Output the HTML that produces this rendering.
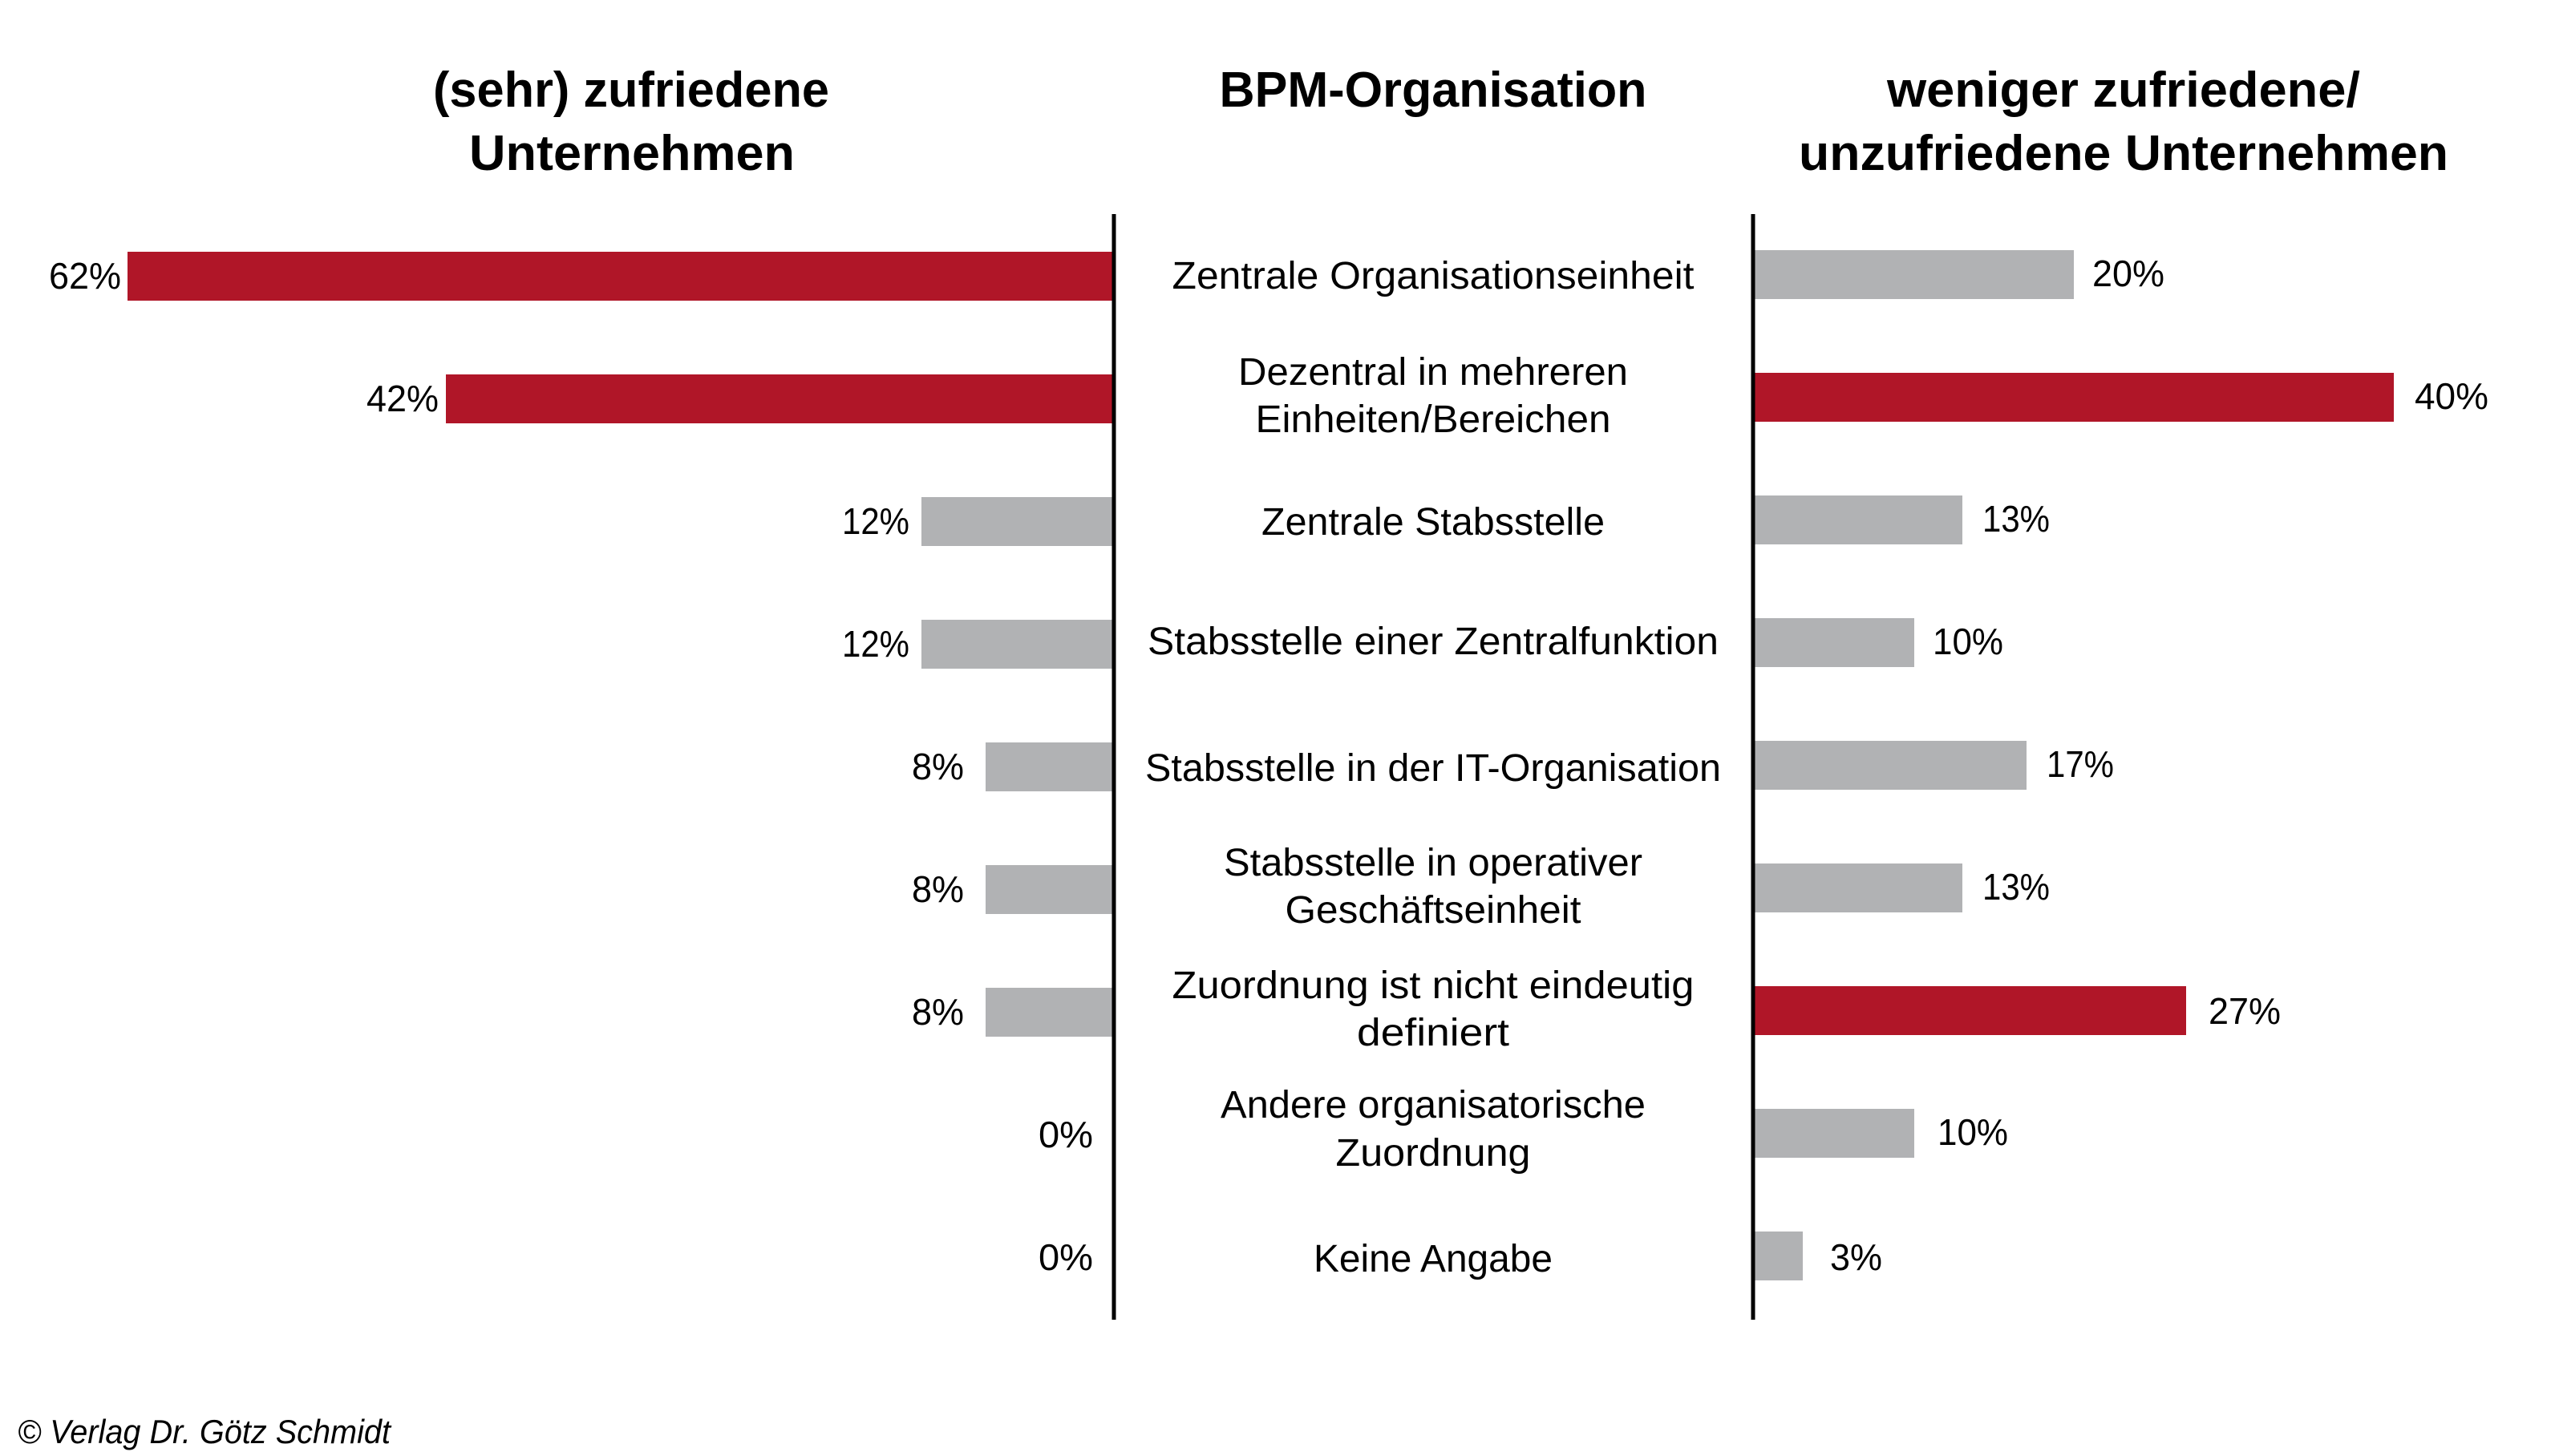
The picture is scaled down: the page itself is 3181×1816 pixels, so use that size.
<!DOCTYPE html>
<html><head><meta charset="utf-8"><style>html,body{margin:0;padding:0;background:#fff}svg{display:block}</style></head>
<body>
<svg width="3181" height="1816" viewBox="0 0 3181 1816" xmlns="http://www.w3.org/2000/svg" font-family="Liberation Sans, sans-serif">
<rect width="3181" height="1816" fill="#fff"/>
<g font-weight="bold" font-size="62" text-anchor="middle" fill="#000">
<text x="787" y="133" textLength="494" lengthAdjust="spacingAndGlyphs">(sehr) zufriedene</text>
<text x="788" y="212" textLength="406" lengthAdjust="spacingAndGlyphs">Unternehmen</text>
<text x="1787" y="133" textLength="533" lengthAdjust="spacingAndGlyphs">BPM-Organisation</text>
<text x="2648" y="133" textLength="590" lengthAdjust="spacingAndGlyphs">weniger zufriedene/</text>
<text x="2648" y="212" textLength="810" lengthAdjust="spacingAndGlyphs">unzufriedene Unternehmen</text>
</g>
<g>
<rect x="159" y="314" width="1228" height="61" fill="#b01628"/>
<rect x="556" y="467" width="831" height="61" fill="#b01628"/>
<rect x="1149" y="620" width="238" height="61" fill="#b1b2b4"/>
<rect x="1149" y="773" width="238" height="61" fill="#b1b2b4"/>
<rect x="1229" y="926" width="158" height="61" fill="#b1b2b4"/>
<rect x="1229" y="1079" width="158" height="61" fill="#b1b2b4"/>
<rect x="1229" y="1232" width="158" height="61" fill="#b1b2b4"/>
</g>
<g>
<rect x="2188" y="312" width="398" height="61" fill="#b1b2b4"/>
<rect x="2188" y="465" width="797" height="61" fill="#b01628"/>
<rect x="2188" y="618" width="259" height="61" fill="#b1b2b4"/>
<rect x="2188" y="771" width="199" height="61" fill="#b1b2b4"/>
<rect x="2188" y="924" width="339" height="61" fill="#b1b2b4"/>
<rect x="2188" y="1077" width="259" height="61" fill="#b1b2b4"/>
<rect x="2188" y="1230" width="538" height="61" fill="#b01628"/>
<rect x="2188" y="1383" width="199" height="61" fill="#b1b2b4"/>
<rect x="2188" y="1536" width="60" height="61" fill="#b1b2b4"/>
</g>
<line x1="1389" y1="267" x2="1389" y2="1646" stroke="#000" stroke-width="5"/>
<line x1="2186" y1="267" x2="2186" y2="1646" stroke="#000" stroke-width="5"/>
<g font-size="46" text-anchor="end" fill="#000">
<text x="151" y="360" textLength="90" lengthAdjust="spacingAndGlyphs">62%</text>
<text x="547" y="513" textLength="90" lengthAdjust="spacingAndGlyphs">42%</text>
<text x="1134" y="666" textLength="84" lengthAdjust="spacingAndGlyphs">12%</text>
<text x="1134" y="819" textLength="84" lengthAdjust="spacingAndGlyphs">12%</text>
<text x="1202" y="972" textLength="65" lengthAdjust="spacingAndGlyphs">8%</text>
<text x="1202" y="1125" textLength="65" lengthAdjust="spacingAndGlyphs">8%</text>
<text x="1202" y="1278" textLength="65" lengthAdjust="spacingAndGlyphs">8%</text>
<text x="1363" y="1431" textLength="68" lengthAdjust="spacingAndGlyphs">0%</text>
<text x="1363" y="1584" textLength="68" lengthAdjust="spacingAndGlyphs">0%</text>
</g>
<g font-size="46" fill="#000">
<text x="2609" y="357" textLength="90" lengthAdjust="spacingAndGlyphs">20%</text>
<text x="3011" y="510" textLength="92" lengthAdjust="spacingAndGlyphs">40%</text>
<text x="2472" y="663" textLength="84" lengthAdjust="spacingAndGlyphs">13%</text>
<text x="2410" y="816" textLength="88" lengthAdjust="spacingAndGlyphs">10%</text>
<text x="2552" y="969" textLength="84" lengthAdjust="spacingAndGlyphs">17%</text>
<text x="2472" y="1122" textLength="84" lengthAdjust="spacingAndGlyphs">13%</text>
<text x="2754" y="1277" textLength="90" lengthAdjust="spacingAndGlyphs">27%</text>
<text x="2416" y="1428" textLength="88" lengthAdjust="spacingAndGlyphs">10%</text>
<text x="2282" y="1584" textLength="65" lengthAdjust="spacingAndGlyphs">3%</text>
</g>
<g font-size="48" text-anchor="middle" fill="#000">
<text x="1787" y="360" textLength="651" lengthAdjust="spacingAndGlyphs">Zentrale Organisationseinheit</text>
<text x="1787" y="480" textLength="486" lengthAdjust="spacingAndGlyphs">Dezentral in mehreren</text>
<text x="1787" y="539" textLength="443" lengthAdjust="spacingAndGlyphs">Einheiten/Bereichen</text>
<text x="1787" y="667" textLength="428" lengthAdjust="spacingAndGlyphs">Zentrale Stabsstelle</text>
<text x="1787" y="816" textLength="712" lengthAdjust="spacingAndGlyphs">Stabsstelle einer Zentralfunktion</text>
<text x="1787" y="974" textLength="718" lengthAdjust="spacingAndGlyphs">Stabsstelle in der IT-Organisation</text>
<text x="1787" y="1092" textLength="522" lengthAdjust="spacingAndGlyphs">Stabsstelle in operativer</text>
<text x="1787" y="1151" textLength="369" lengthAdjust="spacingAndGlyphs">Geschäftseinheit</text>
<text x="1787" y="1245" textLength="651" lengthAdjust="spacingAndGlyphs">Zuordnung ist nicht eindeutig</text>
<text x="1787" y="1304" textLength="190" lengthAdjust="spacingAndGlyphs">definiert</text>
<text x="1787" y="1394" textLength="530" lengthAdjust="spacingAndGlyphs">Andere organisatorische</text>
<text x="1787" y="1454" textLength="243" lengthAdjust="spacingAndGlyphs">Zuordnung</text>
<text x="1787" y="1586" textLength="298" lengthAdjust="spacingAndGlyphs">Keine Angabe</text>
</g>
<text x="22" y="1800" font-size="42" font-style="italic" textLength="465" lengthAdjust="spacingAndGlyphs" fill="#000">© Verlag Dr. Götz Schmidt</text>
</svg>
</body></html>
